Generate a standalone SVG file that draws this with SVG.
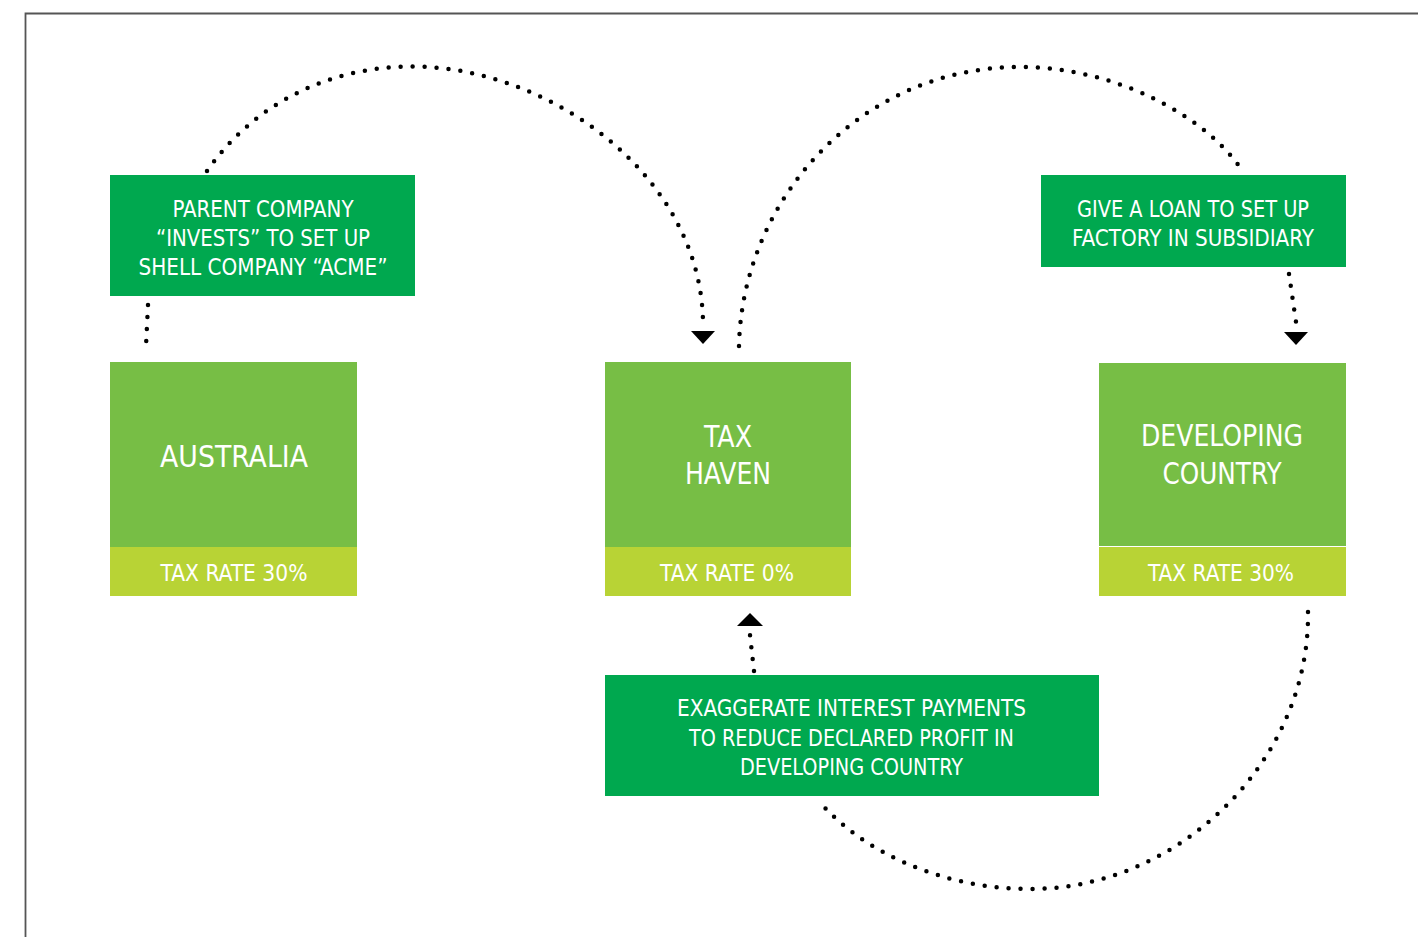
<svg xmlns="http://www.w3.org/2000/svg" width="1418" height="937" viewBox="0 0 1418 937">
<style>
.t{font-family:"DejaVu Sans Condensed","DejaVu Sans","Liberation Sans",sans-serif;font-stretch:condensed;fill:#ffffff;text-anchor:middle}
.s{font-size:23px}
.b{font-size:30px}
.box{fill:#00A84F}
.land{fill:#77BE45}
.band{fill:#B8D335}
.dot{fill:none;stroke:#000;stroke-width:4.5;stroke-linecap:round;stroke-dasharray:0 12}
.arr{fill:#000}
</style>
<rect width="1418" height="937" fill="#fff"/>
<path d="M25.5,937 V13.5 H1418" fill="none" stroke="#555" stroke-width="1.8"/>
<g id="connectors">
<path class="dot" d="M148,305 L146,346"/>
<path class="dot" d="M207,171 C262,92 350,62 428,67 C560,75 700,180 703,321"/>
<polygon class="arr" points="691,331 715,331 703,344"/>
<path class="dot" d="M739,346 C742,200 860,67 1020,67 C1120,67 1210,120 1243,172"/>
<path class="dot" d="M1289,274 L1296,322"/>
<polygon class="arr" points="1284,332 1308,332 1296,345"/>
<path class="dot" d="M1308,612 C1310,760 1180,889 1030,889 C940,889 860,850 818,800"/>
<path class="dot" d="M754,671 L750,635"/>
<polygon class="arr" points="737,626 763,626 750,613"/>
</g>
<g id="australia">
<rect class="land" x="110" y="362" width="247" height="185"/>
<rect class="band" x="110" y="547" width="247" height="49"/>
<text class="t b" x="234" y="467" textLength="148" lengthAdjust="spacingAndGlyphs">AUSTRALIA</text>
<text class="t s" x="234" y="581" textLength="147" lengthAdjust="spacingAndGlyphs">TAX RATE 30%</text>
</g>
<g id="taxhaven">
<rect class="land" x="605" y="362" width="246" height="185"/>
<rect class="band" x="605" y="547" width="246" height="49"/>
<text class="t b" x="728" y="447" textLength="48" lengthAdjust="spacingAndGlyphs">TAX</text>
<text class="t b" x="728" y="484" textLength="86" lengthAdjust="spacingAndGlyphs">HAVEN</text>
<text class="t s" x="727" y="581" textLength="134" lengthAdjust="spacingAndGlyphs">TAX RATE 0%</text>
</g>
<g id="developing">
<rect class="land" x="1099" y="363" width="247" height="183"/>
<rect class="band" x="1099" y="547" width="247" height="49"/>
<text class="t b" x="1222" y="446" textLength="162" lengthAdjust="spacingAndGlyphs">DEVELOPING</text>
<text class="t b" x="1222" y="484" textLength="119" lengthAdjust="spacingAndGlyphs">COUNTRY</text>
<text class="t s" x="1221" y="581" textLength="146" lengthAdjust="spacingAndGlyphs">TAX RATE 30%</text>
</g>
<g id="parent">
<rect class="box" x="110" y="175" width="305" height="121"/>
<text class="t s" x="263" y="217" textLength="181" lengthAdjust="spacingAndGlyphs">PARENT COMPANY</text>
<text class="t s" x="263" y="246" textLength="214" lengthAdjust="spacingAndGlyphs">“INVESTS” TO SET UP</text>
<text class="t s" x="263" y="274.5" textLength="249" lengthAdjust="spacingAndGlyphs">SHELL COMPANY “ACME”</text>
</g>
<g id="loan">
<rect class="box" x="1041" y="175" width="305" height="92"/>
<text class="t s" x="1193" y="217" textLength="232" lengthAdjust="spacingAndGlyphs">GIVE A LOAN TO SET UP</text>
<text class="t s" x="1193" y="245.5" textLength="242" lengthAdjust="spacingAndGlyphs">FACTORY IN SUBSIDIARY</text>
</g>
<g id="exaggerate">
<rect class="box" x="605" y="675" width="494" height="121"/>
<text class="t s" x="851.5" y="716" textLength="349" lengthAdjust="spacingAndGlyphs">EXAGGERATE INTEREST PAYMENTS</text>
<text class="t s" x="851.5" y="745.5" textLength="325" lengthAdjust="spacingAndGlyphs">TO REDUCE DECLARED PROFIT IN</text>
<text class="t s" x="851.5" y="774.5" textLength="223" lengthAdjust="spacingAndGlyphs">DEVELOPING COUNTRY</text>
</g>
</svg>
